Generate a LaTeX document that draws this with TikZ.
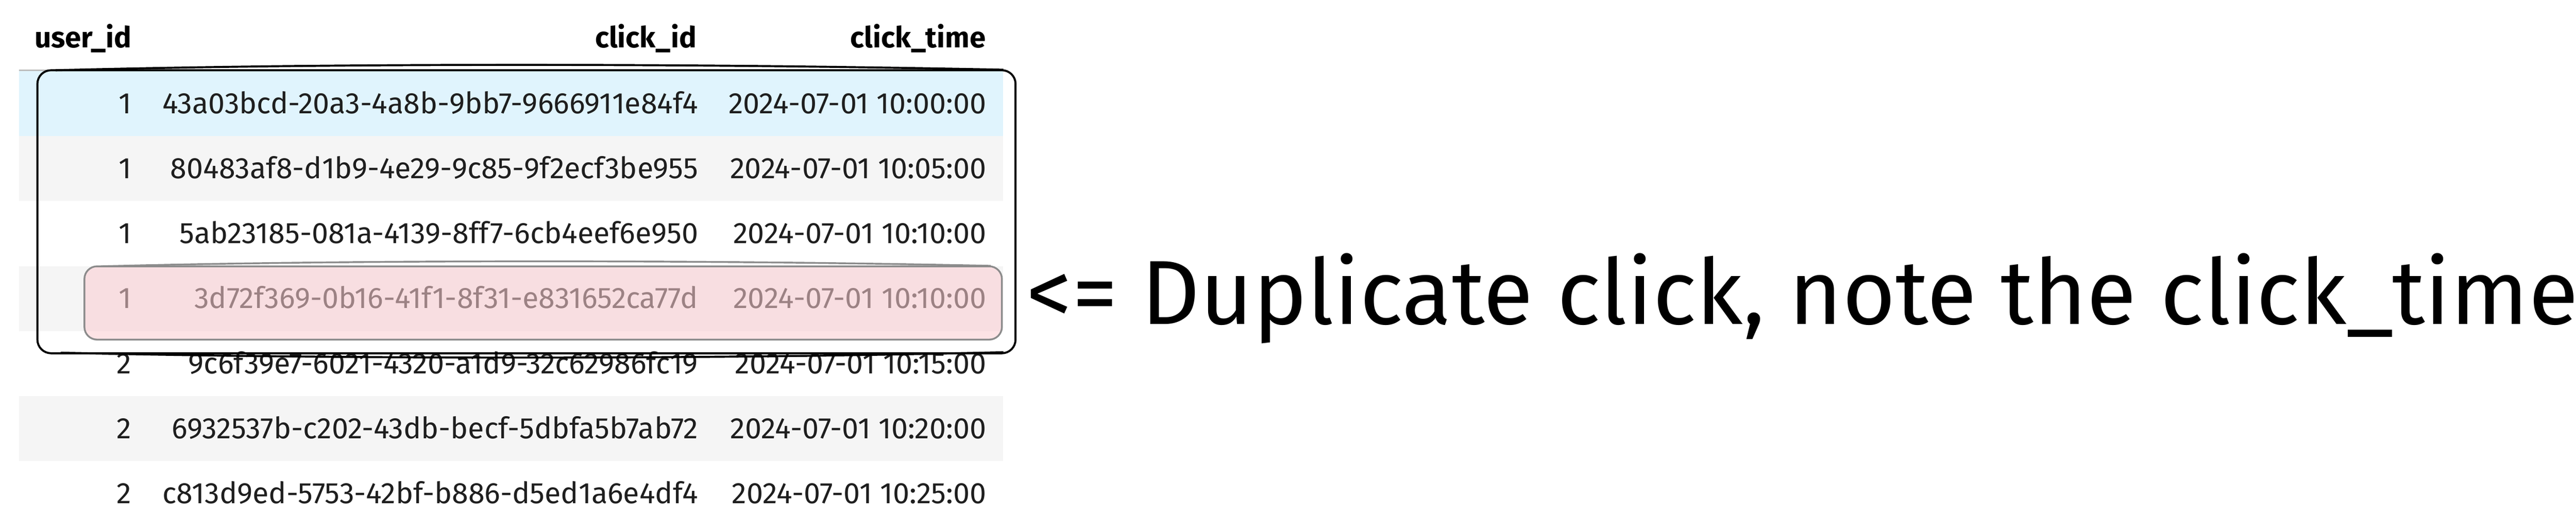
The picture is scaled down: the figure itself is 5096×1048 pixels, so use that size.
\documentclass[tikz,border=0pt]{standalone}
\usepackage{fontspec}
\setmainfont{Fira Sans}
\definecolor{rowblue}{RGB}{224,244,253}
\definecolor{rowgray}{RGB}{245,245,245}
\definecolor{headline}{RGB}{190,190,190}
\definecolor{dupfill}{RGB}{252,206,210}
\definecolor{dupline}{RGB}{140,140,140}
\definecolor{celltext}{RGB}{30,30,30}
\newcommand{\rowh}{128.5}
\newcommand{\coluser}{261}
\newcommand{\colclick}{1382}
\newcommand{\coltime}{1952}
\tikzstyle{cell}=[
  anchor=base east,
  inner sep=0pt,
  text=celltext,
  font=\fontsize{11.7}{13}\selectfont
]
\tikzstyle{head}=[
  anchor=base east,
  inner sep=0pt,
  font=\fontsize{11.5}{13}\selectfont\bfseries
]
\tikzstyle{sketch}=[
  line width=0.8pt,
  rounded corners=5.4pt
]
\tikzstyle{note}=[
  anchor=base west,
  inner sep=0pt,
  font=\fontsize{36}{40}\selectfont
]
\newcommand{\clickrow}[5]{{
  \fill[#5] (38, {141+(#1-1)*\rowh}) rectangle (1984, {141+#1*\rowh});
  \node[cell] (user#1)  at (\coluser,  {225+(#1-1)*\rowh}) {#2};
  \node[cell] (click#1) at (\colclick, {225+(#1-1)*\rowh}) {#3};
  \node[cell] (time#1)  at (\coltime,  {225+(#1-1)*\rowh}) {#4};
}}

\begin{document}
\begin{tikzpicture}[x=0.2pt, y=-0.2pt]
  \useasboundingbox (0,0) rectangle (5096,1048);

  \node[head] (huser)  at (\coluser, 94) {user\_id};
  \node[head] (hclick) at (1379, 94)     {click\_id};
  \node[head] (htime)  at (1951, 94)     {click\_time};

  \clickrow{1}{1}{43a03bcd-20a3-4a8b-9bb7-9666911e84f4}{2024-07-01 10:00:00}{rowblue}
  \clickrow{2}{1}{80483af8-d1b9-4e29-9c85-9f2ecf3be955}{2024-07-01 10:05:00}{rowgray}
  \clickrow{3}{1}{5ab23185-081a-4139-8ff7-6cb4eef6e950}{2024-07-01 10:10:00}{white}
  \clickrow{4}{1}{3d72f369-0b16-41f1-8f31-e831652ca77d}{2024-07-01 10:10:00}{rowgray}
  \clickrow{5}{2}{9c6f39e7-6021-4320-a1d9-32c62986fc19}{2024-07-01 10:15:00}{white}
  \clickrow{6}{2}{6932537b-c202-43db-becf-5dbfa5b7ab72}{2024-07-01 10:20:00}{rowgray}
  \clickrow{7}{2}{c813d9ed-5753-42bf-b886-d5ed1a6e4df4}{2024-07-01 10:25:00}{white}

  \draw[headline, line width=0.6pt] (38,139) -- (1984,139);

  % duplicate row, pink box over the text
  \filldraw[sketch, line width=0.7pt, rounded corners=5pt, fill=dupfill, fill opacity=0.57, draw=dupline]
    (167,527) rectangle (1982,672);
  \draw[dupline, line width=0.7pt] (200,527) .. controls (700,514) and (1400,514) .. (1960,526);

  % box round the first user's clicks
  \draw[sketch] (74,139) rectangle (2009,699);
  \draw[sketch] (110,139) .. controls (700,124) and (1400,126) .. (1985,138);
  \draw[sketch] (120,698) .. controls (700,711) and (1400,711) .. (1985,697);

  \node[note] (dupnote) at (2030,642) {<= Duplicate click, note the click\_time};
\end{tikzpicture}
\end{document}
